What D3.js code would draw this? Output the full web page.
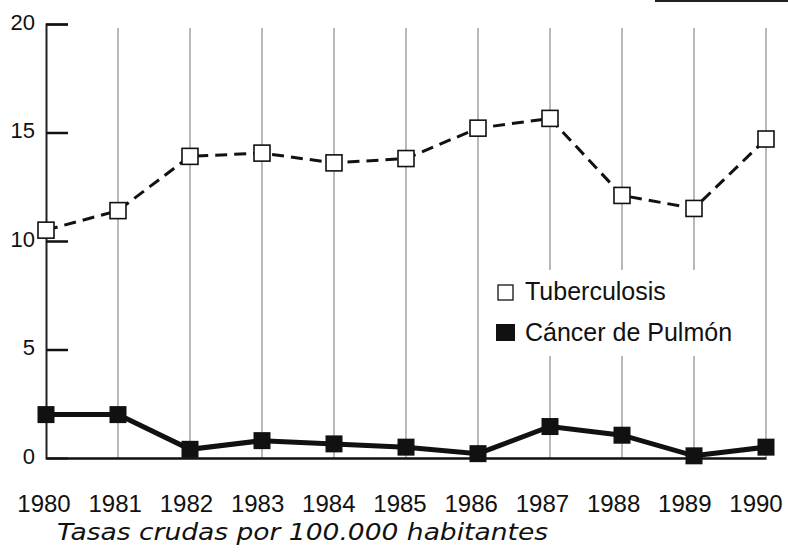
<!DOCTYPE html>
<html><head><meta charset="utf-8">
<script src="https://cdn.jsdelivr.net/npm/d3@7/dist/d3.min.js"></script>
<style>body{margin:0;background:#fff}</style>
</head><body>
<script>
const years = [1980,1981,1982,1983,1984,1985,1986,1987,1988,1989,1990];
const tuberculosis = [10.5,11.4,13.9,14.05,13.6,13.8,15.2,15.65,12.1,11.5,14.7];
const cancerPulmon = [2.0,2.0,0.4,0.8,0.65,0.5,0.2,1.45,1.05,0.1,0.5];
const yTicks = [0,5,10,15,20];
const seriesNames = ["Tuberculosis","Cáncer de Pulmón"];
const caption = "Tasas crudas por 100.000 habitantes";

const W=788,H=556;
const svg=d3.select("body").append("svg").attr("width",W).attr("height",H);
const x=d3.scaleLinear().domain([1980,1990]).range([46,766]);
const xLab=d3.scaleLinear().domain([1980,1990]).range([44,756]);
const y=d3.scaleLinear().domain([0,20]).range([458,24]);
const font="'Liberation Sans', Arial, sans-serif";

// scan artifact bar top right
svg.append("rect").attr("x",655).attr("y",0).attr("width",133).attr("height",2).attr("fill","#222");

// vertical gridlines
svg.append("g").selectAll("line").data(years.slice(1)).join("line")
  .attr("x1",d=>x(d)).attr("x2",d=>x(d)).attr("y1",y(20)+4).attr("y2",y(0))
  .attr("stroke","#a8a8a8").attr("stroke-width",1.6);

// legend background
svg.append("rect").attr("x",490).attr("y",270).attr("width",258).attr("height",86).attr("fill","#fff");

// y axis
const yAxis=d3.axisRight(y).tickValues(yTicks).tickSize(22).tickFormat("");
const ga=svg.append("g").attr("transform","translate(46,0)").call(yAxis);
ga.select(".domain").attr("stroke","#222").attr("stroke-width",2);
ga.selectAll(".tick line").attr("stroke","#111").attr("stroke-width",2.5);
ga.selectAll(".tick").filter(d=>d===0).remove();
svg.append("g").selectAll("text").data(yTicks).join("text")
  .attr("x",35).attr("y",d=>y(d)-2).attr("dy","0.36em").attr("text-anchor","end")
  .attr("font-family",font).attr("font-size",22).attr("fill","#111").text(d=>d);

// x axis
const xAxis=d3.axisBottom(x).tickValues(years).tickSize(0).tickFormat("");
const gx=svg.append("g").attr("transform","translate(0,458)").call(xAxis);
gx.select(".domain").attr("stroke","#111").attr("stroke-width",2.5);
svg.append("g").selectAll("text").data(years).join("text")
  .attr("x",d=>xLab(d)).attr("y",512).attr("text-anchor","middle")
  .attr("font-family",font).attr("font-size",24).attr("fill","#111").text(d=>d);

// lines
const line=d3.line().x((d,i)=>x(years[i])).y(d=>y(d));
svg.append("path").datum(tuberculosis).attr("d",line).attr("fill","none")
  .attr("stroke","#111").attr("stroke-width",3).attr("stroke-dasharray","12,7");
svg.append("path").datum(cancerPulmon).attr("d",line).attr("fill","none")
  .attr("stroke","#111").attr("stroke-width",5);

const s=16;
svg.append("g").selectAll("rect").data(tuberculosis).join("rect")
  .attr("x",(d,i)=>x(years[i])-s/2).attr("y",d=>y(d)-s/2).attr("width",s).attr("height",s)
  .attr("fill","#fff").attr("stroke","#111").attr("stroke-width",1.6);
svg.append("g").selectAll("rect").data(cancerPulmon).join("rect")
  .attr("x",(d,i)=>x(years[i])-8.5).attr("y",d=>y(d)-8.5).attr("width",17).attr("height",17)
  .attr("fill","#111");

// legend
const lg=svg.append("g");
lg.append("rect").attr("x",498).attr("y",285).attr("width",15).attr("height",15).attr("fill","#fff").attr("stroke","#111").attr("stroke-width",1.3);
lg.append("rect").attr("x",496).attr("y",324).attr("width",19).attr("height",17).attr("fill","#111");
lg.selectAll("text").data(seriesNames).join("text")
  .attr("x",525).attr("y",(d,i)=>300+i*41).attr("font-family",font).attr("font-size",25).attr("fill","#111").text(d=>d);

// caption
svg.append("text").attr("x",57).attr("y",540).attr("font-family","'DejaVu Sans', sans-serif")
  .attr("font-style","italic").attr("font-size",23).attr("fill","#111")
  .attr("textLength",491).attr("lengthAdjust","spacingAndGlyphs").text(caption);
</script>
</body></html>
